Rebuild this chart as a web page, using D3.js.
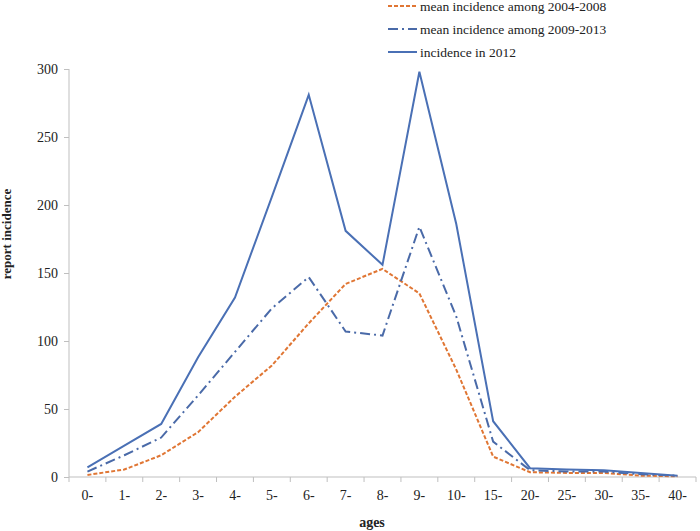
<!DOCTYPE html>
<html><head><meta charset="utf-8">
<script src="https://cdn.jsdelivr.net/npm/d3@7"></script>
<style>body{margin:0;background:#fff;}svg{display:block;}text{font-family:"Liberation Serif","Times New Roman",serif;}</style>
</head><body><svg id="c" width="700" height="531"></svg>
<script>
const categories = ["0-","1-","2-","3-","4-","5-","6-","7-","8-","9-","10-","15-","20-","25-","30-","35-","40-"];
const mean0408 = [1.5,5.5,16,33,59,82,113,142,153,135,79,15,3.5,3,3,1,0.5];
const mean0913 = [4,16,29,60,92,124,147,107,104,184,118,26,5,4,4,2,1];
const inc2012 = [7,23,39,88,132,206,281,181,156,298,186,41,6.5,5.5,5,3,1];
const yTicks = [0,50,100,150,200,250,300];
const seriesNames = ["mean incidence among 2004-2008","mean incidence among 2009-2013","incidence in 2012"];

(function(){
const svg = d3.select("#c");
const pLeft = 69, pRight = 696, pTop = 69, pBottom = 477;
const x = d3.scaleBand().domain(categories).range([pLeft, pRight]).padding(0);
const y = d3.scaleLinear().domain([0,300]).range([pBottom, pTop]);
const axisColor = "#bfbfbf";

const ya = svg.append("g").attr("transform", `translate(${pLeft},0)`)
  .call(d3.axisLeft(y).tickValues(yTicks).tickSize(5).tickPadding(6));
ya.select(".domain").attr("stroke", axisColor).attr("d", `M0,${pBottom}V${pTop}`);
ya.selectAll(".tick line").attr("stroke", axisColor);
ya.selectAll("text").attr("font-size", 14).attr("fill", "#222").style("font-family","Liberation Serif");

const xa = svg.append("g").attr("transform", `translate(0,${pBottom})`)
  .call(d3.axisBottom(x).tickSize(0).tickPadding(13));
xa.select(".domain").attr("stroke", axisColor).attr("d", `M${pLeft},0H${pRight}`);
xa.selectAll("text").attr("font-size", 14).attr("fill", "#222").style("font-family","Liberation Serif");
const bounds = categories.map(c => x(c)).concat([pRight]);
svg.append("g").selectAll("line").data(bounds).join("line")
  .attr("x1", d=>d).attr("x2", d=>d).attr("y1", pBottom).attr("y2", pBottom+5)
  .attr("stroke", axisColor);

const cx = c => x(c) + x.bandwidth()/2;
const line = d3.line().x((d,i)=>cx(categories[i])).y(d=>y(d));

const styles = [
  {data: mean0408, color:"#e07634", dash:"4,2"},
  {data: mean0913, color:"#4a6aa8", dash:"10,4,2,4"},
  {data: inc2012, color:"#4a70b5", dash:null}
];
styles.forEach(s => {
  const p = svg.append("path").datum(s.data).attr("d", line)
    .attr("fill","none").attr("stroke", s.color).attr("stroke-width", 2)
    .attr("stroke-linejoin","miter");
  if (s.dash) p.attr("stroke-dasharray", s.dash);
});

const lg = svg.append("g");
seriesNames.forEach((n,i) => {
  const yy = 6 + i*23;
  const l = lg.append("line").attr("x1",388).attr("x2",417).attr("y1",yy).attr("y2",yy)
    .attr("stroke", styles[i].color).attr("stroke-width",2);
  if (styles[i].dash) l.attr("stroke-dasharray", styles[i].dash);
  lg.append("text").attr("x",420).attr("y",yy+5).attr("font-size",13.5).attr("fill","#222").text(n);
});

svg.append("text").attr("transform","translate(11,234) rotate(-90)").attr("text-anchor","middle")
  .attr("font-size",13).attr("font-weight","bold").attr("fill","#222").text("report incidence");
svg.append("text").attr("x",372).attr("y",527).attr("text-anchor","middle")
  .attr("font-size",14).attr("font-weight","bold").attr("fill","#222").text("ages");
})();
</script></body></html>
